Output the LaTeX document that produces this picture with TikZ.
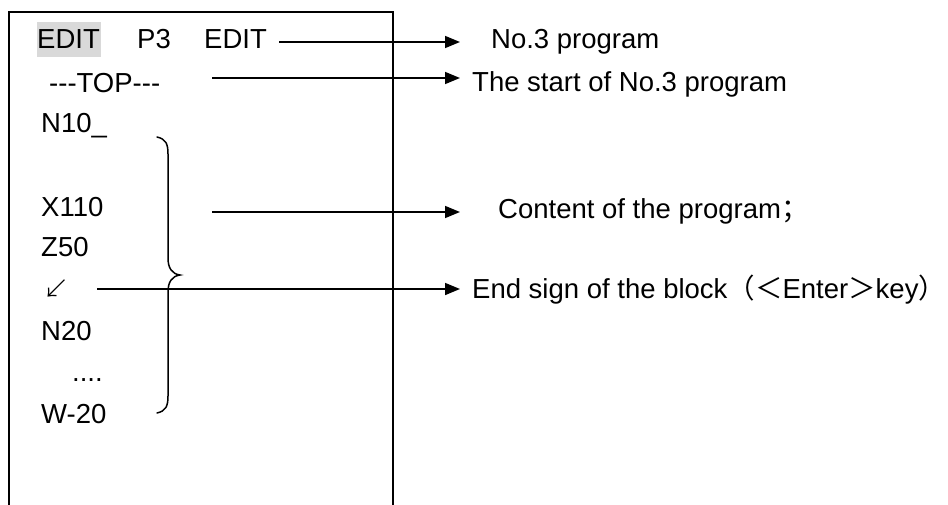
\documentclass[tikz,border=0pt]{standalone}
\usepackage{fontspec}
\setmainfont{Liberation Sans}
\newfontfamily\cjk{Noto Sans CJK SC}
\newfontfamily\cjklight{Noto Sans CJK SC Light}
\usetikzlibrary{arrows.meta}
\definecolor{hlgray}{HTML}{D9D9D9}
\begin{document}
\begin{tikzpicture}[x=1pt,y=-1pt,
  txt/.style={inner sep=0pt, anchor=base west, font=\fontsize{27.5}{33}\selectfont},
  frame/.style={draw=black, line width=2pt},
  conn/.style={draw=black, line width=1.6pt, -{Triangle[length=15pt,width=12pt]}},
  bracepath/.style={draw=black, line width=1.5pt, line cap=round}]
\useasboundingbox (0,0) rectangle (948,504);
\clip (0,0) rectangle (948,504);

% screen frame (runs off the bottom edge)
\draw[frame] (8.5,12) rectangle (393,530);

% status line with highlighted mode field
\node[inner sep=0pt, fill=hlgray, minimum width=64pt, minimum height=35pt,
      font=\fontsize{27.5}{33}\selectfont] (edit1) at (68.5,39.2) {EDIT};
\node[txt] (p3) at (137,48) {P3};
\node[txt] (edit2) at (204,48) {EDIT};

% program listing
\node[txt] (top) at (49,92) {-{}-{}-TOP-{}-{}-};
\node[txt] (n10) at (41,132) {N10\_};
\node[txt] (x110) at (41,216) {X110};
\node[txt] (z50) at (41,256) {Z50};
\node[inner sep=0pt, anchor=center, font=\cjklight\fontsize{26}{30}\selectfont] (eob) at (56,289) {↙};
\node[txt] (n20) at (41,340) {N20};
\node[txt] (dots) at (72,381) {....};
\node[txt] (w20) at (41,423) {W-20};

% curly brace around the block contents
\draw[bracepath] (157,137) .. controls (166,139) and (168,144) .. (168,154)
  -- (168,258) .. controls (168,268) and (172,274) .. (180,275)
  .. controls (172,276) and (168,282) .. (168,292)
  -- (168,396) .. controls (168,406) and (166,411) .. (157,413);

% explanations
\node[txt] (lbl1) at (491,48) {No.3 program};
\node[txt] (lbl2) at (472,91) {The start of No.3 program};
\node[txt] (lbl3) at (498,218) {Content of the program{\cjk ；}};
\node[txt] (lbl4) at (472,298) {End sign of the block{\cjk （＜}Enter{\cjk ＞}key{\cjk ）}};

% arrow starts and common tip column
\coordinate (tipx) at (460,0);
\coordinate (s1) at (279,42);
\coordinate (s2) at (212,78);
\coordinate (s3) at (212,212);
\coordinate (s4) at (97,289);

\draw[conn] (s1) -- (s1 -| tipx);
\draw[conn] (s2) -- (s2 -| tipx);
\draw[conn] (s3) -- (s3 -| tipx);
\draw[conn] (s4) -- (s4 -| tipx);
\end{tikzpicture}
\end{document}
